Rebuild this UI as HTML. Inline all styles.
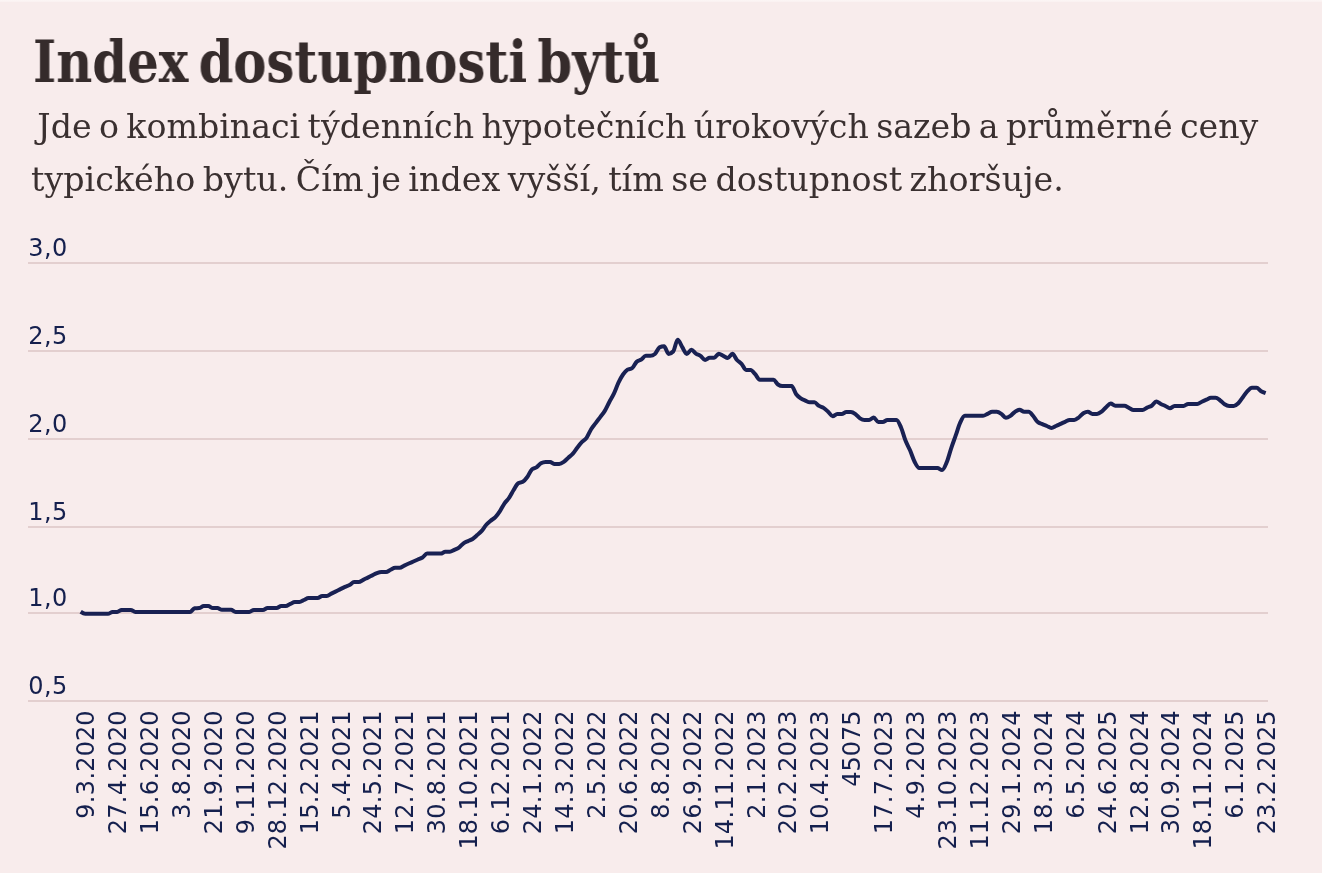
<!DOCTYPE html>
<html lang="cs"><head><meta charset="utf-8"><title>Index dostupnosti bytů</title>
<style>
html,body{margin:0;padding:0;}
body{width:1322px;height:873px;overflow:hidden;background:#f8ecec;position:relative;}
.top{position:absolute;left:0;top:0;width:1322px;height:2px;background:linear-gradient(#fcf6f5,#faf1f1);}
h1{position:absolute;left:33px;top:33px;margin:0;white-space:nowrap;color:#352b2b;
 font-family:"DejaVu Serif Condensed","DejaVu Serif","Liberation Serif",serif;font-weight:700;font-stretch:condensed;font-size:57px;line-height:58px;will-change:transform;transform-origin:0 0;transform:scaleX(0.9685);word-spacing:-7.2px;}
p.sub{position:absolute;left:34px;margin:0;white-space:pre;color:#3a3030;
 font-family:"DejaVu Serif","Liberation Serif",serif;font-weight:400;font-size:33px;line-height:36px;will-change:transform;transform-origin:0 0;transform:scaleX(1.0);word-spacing:-3.2px;}
svg{position:absolute;left:0;top:0;will-change:transform;}
svg text{font-family:"DejaVu Sans","Liberation Sans",sans-serif;font-size:24px;fill:#15204e;}
</style></head><body>
<div class="top"></div>
<h1 id="t">Index dostupnosti bytů</h1>
<p class="sub" id="s1" style="top:109px;left:30px;transform:scaleX(1.0068)"> Jde o kombinaci týdenních hypotečních úrokových sazeb a průměrné ceny</p>
<p class="sub" id="s2" style="top:161.7px;left:30.9px;transform:scaleX(1.0102)">typického bytu. Čím je index vyšší, tím se dostupnost zhoršuje.</p>
<svg width="1322" height="873" viewBox="0 0 1322 873">

<g stroke="#e3cfcf" stroke-width="2" fill="none">
<line x1="28" x2="1268" y1="263" y2="263"/>
<line x1="28" x2="1268" y1="351" y2="351"/>
<line x1="28" x2="1268" y1="439" y2="439"/>
<line x1="28" x2="1268" y1="527" y2="527"/>
<line x1="28" x2="1268" y1="613" y2="613"/>
<line x1="28" x2="1268" y1="701" y2="701"/>
</g>
<g id="yl">
<text x="28.3" y="255.9" dx="0 0.35 0.35">3,0</text>
<text x="28.3" y="343.9" dx="0 0.35 0.35">2,5</text>
<text x="28.3" y="431.9" dx="0 0.35 0.35">2,0</text>
<text x="28.3" y="519.9" dx="0 0.35 0.35">1,5</text>
<text x="28.3" y="605.9" dx="0 0.35 0.35">1,0</text>
<text x="28.3" y="693.9" dx="0 0.35 0.35">0,5</text>
</g>
<g id="xl" text-anchor="end">
<text transform="translate(94.20,710.5) rotate(-90)" dx="0 0.35 0.35 0.35 0.35 0 0 0">9.3.2020</text>
<text transform="translate(126.12,710.5) rotate(-90)" dx="0 0 0.35 0.35 0.35 0.35 0 0 0">27.4.2020</text>
<text transform="translate(158.04,710.5) rotate(-90)" dx="0 0 0.35 0.35 0.35 0.35 0 0 0">15.6.2020</text>
<text transform="translate(189.96,710.5) rotate(-90)" dx="0 0.35 0.35 0.35 0.35 0 0 0">3.8.2020</text>
<text transform="translate(221.88,710.5) rotate(-90)" dx="0 0 0.35 0.35 0.35 0.35 0 0 0">21.9.2020</text>
<text transform="translate(253.80,710.5) rotate(-90)" dx="0 0.35 0.35 0 0.35 0.35 0 0 0">9.11.2020</text>
<text transform="translate(285.72,710.5) rotate(-90)" dx="0 0 0.35 0.35 0 0.35 0.35 0 0 0">28.12.2020</text>
<text transform="translate(317.64,710.5) rotate(-90)" dx="0 0 0.35 0.35 0.35 0.35 0 0 0">15.2.2021</text>
<text transform="translate(349.56,710.5) rotate(-90)" dx="0 0.35 0.35 0.35 0.35 0 0 0">5.4.2021</text>
<text transform="translate(381.48,710.5) rotate(-90)" dx="0 0 0.35 0.35 0.35 0.35 0 0 0">24.5.2021</text>
<text transform="translate(413.40,710.5) rotate(-90)" dx="0 0 0.35 0.35 0.35 0.35 0 0 0">12.7.2021</text>
<text transform="translate(445.32,710.5) rotate(-90)" dx="0 0 0.35 0.35 0.35 0.35 0 0 0">30.8.2021</text>
<text transform="translate(477.24,710.5) rotate(-90)" dx="0 0 0.35 0.35 0 0.35 0.35 0 0 0">18.10.2021</text>
<text transform="translate(509.16,710.5) rotate(-90)" dx="0 0.35 0.35 0 0.35 0.35 0 0 0">6.12.2021</text>
<text transform="translate(541.08,710.5) rotate(-90)" dx="0 0 0.35 0.35 0.35 0.35 0 0 0">24.1.2022</text>
<text transform="translate(573.00,710.5) rotate(-90)" dx="0 0 0.35 0.35 0.35 0.35 0 0 0">14.3.2022</text>
<text transform="translate(604.92,710.5) rotate(-90)" dx="0 0.35 0.35 0.35 0.35 0 0 0">2.5.2022</text>
<text transform="translate(636.84,710.5) rotate(-90)" dx="0 0 0.35 0.35 0.35 0.35 0 0 0">20.6.2022</text>
<text transform="translate(668.76,710.5) rotate(-90)" dx="0 0.35 0.35 0.35 0.35 0 0 0">8.8.2022</text>
<text transform="translate(700.68,710.5) rotate(-90)" dx="0 0 0.35 0.35 0.35 0.35 0 0 0">26.9.2022</text>
<text transform="translate(732.60,710.5) rotate(-90)" dx="0 0 0.35 0.35 0 0.35 0.35 0 0 0">14.11.2022</text>
<text transform="translate(764.52,710.5) rotate(-90)" dx="0 0.35 0.35 0.35 0.35 0 0 0">2.1.2023</text>
<text transform="translate(796.44,710.5) rotate(-90)" dx="0 0 0.35 0.35 0.35 0.35 0 0 0">20.2.2023</text>
<text transform="translate(828.36,710.5) rotate(-90)" dx="0 0 0.35 0.35 0.35 0.35 0 0 0">10.4.2023</text>
<text transform="translate(860.28,710.5) rotate(-90)">45075</text>
<text transform="translate(892.20,710.5) rotate(-90)" dx="0 0 0.35 0.35 0.35 0.35 0 0 0">17.7.2023</text>
<text transform="translate(924.12,710.5) rotate(-90)" dx="0 0.35 0.35 0.35 0.35 0 0 0">4.9.2023</text>
<text transform="translate(956.04,710.5) rotate(-90)" dx="0 0 0.35 0.35 0 0.35 0.35 0 0 0">23.10.2023</text>
<text transform="translate(987.96,710.5) rotate(-90)" dx="0 0 0.35 0.35 0 0.35 0.35 0 0 0">11.12.2023</text>
<text transform="translate(1019.88,710.5) rotate(-90)" dx="0 0 0.35 0.35 0.35 0.35 0 0 0">29.1.2024</text>
<text transform="translate(1051.80,710.5) rotate(-90)" dx="0 0 0.35 0.35 0.35 0.35 0 0 0">18.3.2024</text>
<text transform="translate(1083.72,710.5) rotate(-90)" dx="0 0.35 0.35 0.35 0.35 0 0 0">6.5.2024</text>
<text transform="translate(1115.64,710.5) rotate(-90)" dx="0 0 0.35 0.35 0.35 0.35 0 0 0">24.6.2025</text>
<text transform="translate(1147.56,710.5) rotate(-90)" dx="0 0 0.35 0.35 0.35 0.35 0 0 0">12.8.2024</text>
<text transform="translate(1179.48,710.5) rotate(-90)" dx="0 0 0.35 0.35 0.35 0.35 0 0 0">30.9.2024</text>
<text transform="translate(1211.40,710.5) rotate(-90)" dx="0 0 0.35 0.35 0 0.35 0.35 0 0 0">18.11.2024</text>
<text transform="translate(1243.32,710.5) rotate(-90)" dx="0 0.35 0.35 0.35 0.35 0 0 0">6.1.2025</text>
<text transform="translate(1275.24,710.5) rotate(-90)" dx="0 0 0.35 0.35 0.35 0.35 0 0 0">23.2.2025</text>
</g>
<path d="M80.65,611.75C82.17,612.77,83.69,613.80,85.21,613.80C86.73,613.80,88.25,613.80,89.77,613.80C91.29,613.80,92.80,613.80,94.32,613.80C95.84,613.80,97.36,613.80,98.88,613.80C100.40,613.80,101.92,613.80,103.44,613.80C104.96,613.80,106.48,613.80,108.00,613.80C109.52,613.80,111.03,612.00,112.55,612.00C114.07,612.00,115.59,612.00,117.11,612.00C118.63,612.00,120.15,609.90,121.67,609.90C123.19,609.90,124.71,609.90,126.23,609.90C127.75,609.90,129.26,609.90,130.78,609.90C132.30,609.90,133.82,612.00,135.34,612.00C136.86,612.00,138.38,612.00,139.90,612.00C141.42,612.00,142.94,612.00,144.46,612.00C145.98,612.00,147.50,612.00,149.02,612.00C150.54,612.00,152.05,612.00,153.57,612.00C155.09,612.00,156.61,612.00,158.13,612.00C159.65,612.00,161.17,612.00,162.69,612.00C164.21,612.00,165.73,612.00,167.25,612.00C168.77,612.00,170.28,612.00,171.80,612.00C173.32,612.00,174.84,612.00,176.36,612.00C177.88,612.00,179.40,612.00,180.92,612.00C182.44,612.00,183.96,612.00,185.48,612.00C187.00,612.00,188.51,612.00,190.03,612.00C191.55,612.00,193.07,608.43,194.59,608.30C196.11,608.17,197.63,608.23,199.15,608.10C200.67,607.97,202.19,605.95,203.71,605.95C205.23,605.95,206.75,605.95,208.27,605.95C209.79,605.95,211.30,608.10,212.82,608.10C214.34,608.10,215.86,608.10,217.38,608.10C218.90,608.10,220.42,609.80,221.94,609.80C223.46,609.80,224.98,609.80,226.50,609.80C228.02,609.80,229.53,609.80,231.05,609.80C232.57,609.80,234.09,612.00,235.61,612.00C237.13,612.00,238.65,612.00,240.17,612.00C241.69,612.00,243.21,612.00,244.73,612.00C246.25,612.00,247.76,612.00,249.28,612.00C250.80,612.00,252.32,609.90,253.84,609.90C255.36,609.90,256.88,609.90,258.40,609.90C259.92,609.90,261.44,609.90,262.96,609.90C264.48,609.90,266.00,608.00,267.52,608.00C269.04,608.00,270.55,608.00,272.07,608.00C273.59,608.00,275.11,608.00,276.63,608.00C278.15,608.00,279.67,606.00,281.19,606.00C282.71,606.00,284.23,606.00,285.75,606.00C287.27,606.00,288.78,604.57,290.30,603.90C291.82,603.23,293.34,602.00,294.86,602.00C296.38,602.00,297.90,602.00,299.42,602.00C300.94,602.00,302.46,600.67,303.98,600.00C305.50,599.33,307.01,598.00,308.53,598.00C310.05,598.00,311.57,598.00,313.09,598.00C314.61,598.00,316.13,598.00,317.65,598.00C319.17,598.00,320.69,596.00,322.21,596.00C323.73,596.00,325.25,596.00,326.77,596.00C328.29,596.00,329.80,594.37,331.32,593.60C332.84,592.83,334.36,592.15,335.88,591.40C337.40,590.65,338.92,589.85,340.44,589.10C341.96,588.35,343.48,587.57,345.00,586.90C346.52,586.23,348.03,585.90,349.55,585.10C351.07,584.30,352.59,582.10,354.11,582.10C355.63,582.10,357.15,582.10,358.67,582.10C360.19,582.10,361.71,580.65,363.23,579.90C364.75,579.15,366.27,578.36,367.79,577.60C369.31,576.84,370.82,576.10,372.34,575.35C373.86,574.60,375.38,573.66,376.90,573.10C378.42,572.54,379.94,572.00,381.46,572.00C382.98,572.00,384.50,572.00,386.02,572.00C387.54,572.00,389.05,570.50,390.57,569.80C392.09,569.10,393.61,567.80,395.13,567.80C396.65,567.80,398.17,567.80,399.69,567.80C401.21,567.80,402.73,566.32,404.25,565.60C405.77,564.88,407.28,564.18,408.80,563.50C410.32,562.82,411.84,562.17,413.36,561.50C414.88,560.83,416.40,560.17,417.92,559.50C419.44,558.83,420.96,558.48,422.48,557.50C424.00,556.52,425.52,553.60,427.04,553.60C428.56,553.60,430.07,553.60,431.59,553.60C433.11,553.60,434.63,553.60,436.15,553.60C437.67,553.60,439.19,553.60,440.71,553.60C442.23,553.60,443.75,551.80,445.27,551.80C446.79,551.80,448.30,551.80,449.82,551.80C451.34,551.80,452.86,550.60,454.38,549.90C455.90,549.20,457.42,548.70,458.94,547.60C460.46,546.50,461.98,544.38,463.50,543.30C465.02,542.22,466.53,541.82,468.05,541.10C469.57,540.38,471.09,540.00,472.61,539.00C474.13,538.00,475.65,536.45,477.17,535.10C478.69,533.75,480.21,532.62,481.73,530.90C483.25,529.18,484.77,526.52,486.29,524.80C487.81,523.09,489.32,521.88,490.84,520.60C492.36,519.31,493.88,518.68,495.40,517.10C496.92,515.52,498.44,513.40,499.96,511.10C501.48,508.80,503.00,505.52,504.52,503.30C506.04,501.09,507.55,500.01,509.07,497.80C510.59,495.58,512.11,492.43,513.63,490.00C515.15,487.57,516.67,484.13,518.19,483.20C519.71,482.27,521.23,482.73,522.75,481.80C524.27,480.87,525.78,479.06,527.30,477.00C528.82,474.93,530.34,470.73,531.86,469.40C533.38,468.07,534.90,468.43,536.42,467.40C537.94,466.37,539.46,464.07,540.98,463.20C542.50,462.33,544.02,461.90,545.54,461.90C547.06,461.90,548.57,461.97,550.09,462.10C551.61,462.23,553.13,463.90,554.65,463.90C556.17,463.90,557.69,463.90,559.21,463.90C560.73,463.90,562.25,462.94,563.77,461.90C565.29,460.87,566.80,459.08,568.32,457.70C569.84,456.32,571.36,455.32,572.88,453.60C574.40,451.88,575.92,449.35,577.44,447.40C578.96,445.45,580.48,443.50,582.00,441.90C583.52,440.30,585.03,439.91,586.55,437.80C588.07,435.68,589.59,431.65,591.11,429.20C592.63,426.75,594.15,425.12,595.67,423.10C597.19,421.08,598.71,419.13,600.23,417.10C601.75,415.07,603.27,413.42,604.79,410.90C606.31,408.39,607.82,404.86,609.34,402.00C610.86,399.13,612.38,396.92,613.90,393.70C615.42,390.48,616.94,385.90,618.46,382.70C619.98,379.50,621.50,376.67,623.02,374.50C624.54,372.34,626.05,370.70,627.57,369.70C629.09,368.70,630.61,369.20,632.13,368.20C633.65,367.20,635.17,363.15,636.69,361.70C638.21,360.25,639.73,360.48,641.25,359.50C642.77,358.52,644.28,355.80,645.80,355.80C647.32,355.80,648.84,355.80,650.36,355.80C651.88,355.80,653.40,355.20,654.92,354.00C656.44,352.80,657.96,348.13,659.48,347.40C661.00,346.67,662.52,346.30,664.04,346.30C665.56,346.30,667.07,353.90,668.59,353.90C670.11,353.90,671.63,353.10,673.15,351.50C674.67,349.90,676.19,339.70,677.71,339.70C679.23,339.70,680.75,344.83,682.27,347.20C683.79,349.56,685.30,353.90,686.82,353.90C688.34,353.90,689.86,349.75,691.38,349.75C692.90,349.75,694.42,352.58,695.94,353.60C697.46,354.62,698.98,354.83,700.50,355.90C702.02,356.97,703.53,360.00,705.05,360.00C706.57,360.00,708.09,357.80,709.61,357.80C711.13,357.80,712.65,357.80,714.17,357.80C715.69,357.80,717.21,353.85,718.73,353.85C720.25,353.85,721.77,355.21,723.29,355.90C724.81,356.59,726.32,358.00,727.84,358.00C729.36,358.00,730.88,353.85,732.40,353.85C733.92,353.85,735.44,358.32,736.96,360.00C738.48,361.67,740.00,362.25,741.52,363.90C743.04,365.55,744.55,369.90,746.07,369.90C747.59,369.90,749.11,369.90,750.63,369.90C752.15,369.90,753.67,372.57,755.19,374.20C756.71,375.83,758.23,379.70,759.75,379.70C761.27,379.70,762.78,379.70,764.30,379.70C765.82,379.70,767.34,379.70,768.86,379.70C770.38,379.70,771.90,379.70,773.42,379.70C774.94,379.70,776.46,383.43,777.98,384.50C779.50,385.57,781.02,386.10,782.54,386.10C784.06,386.10,785.57,386.10,787.09,386.10C788.61,386.10,790.13,386.10,791.65,386.10C793.17,386.10,794.69,392.15,796.21,394.20C797.73,396.25,799.25,397.33,800.77,398.40C802.29,399.46,803.80,399.95,805.32,400.60C806.84,401.25,808.36,402.30,809.88,402.30C811.40,402.30,812.92,402.30,814.44,402.30C815.96,402.30,817.48,404.97,819.00,405.90C820.52,406.83,822.04,406.93,823.56,407.90C825.08,408.87,826.59,410.30,828.11,411.70C829.63,413.10,831.15,416.30,832.67,416.30C834.19,416.30,835.71,413.90,837.23,413.90C838.75,413.90,840.27,413.90,841.79,413.90C843.31,413.90,844.82,412.00,846.34,412.00C847.86,412.00,849.38,412.00,850.90,412.00C852.42,412.00,853.94,413.03,855.46,414.10C856.98,415.17,858.50,417.42,860.02,418.40C861.54,419.38,863.05,420.00,864.57,420.00C866.09,420.00,867.61,420.00,869.13,420.00C870.65,420.00,872.17,417.50,873.69,417.50C875.21,417.50,876.73,422.00,878.25,422.00C879.77,422.00,881.29,422.00,882.81,422.00C884.33,422.00,885.84,419.95,887.36,419.95C888.88,419.95,890.40,419.95,891.92,419.95C893.44,419.95,894.96,419.95,896.48,419.95C898.00,419.95,899.52,424.02,901.04,427.50C902.56,430.97,904.07,436.97,905.59,440.80C907.11,444.64,908.63,446.97,910.15,450.50C911.67,454.03,913.19,459.07,914.71,462.00C916.23,464.93,917.75,468.10,919.27,468.10C920.79,468.10,922.30,468.10,923.82,468.10C925.34,468.10,926.86,468.10,928.38,468.10C929.90,468.10,931.42,468.10,932.94,468.10C934.46,468.10,935.98,468.10,937.50,468.10C939.02,468.10,940.54,470.10,942.06,470.10C943.58,470.10,945.09,466.23,946.61,462.60C948.13,458.97,949.65,452.83,951.17,448.30C952.69,443.77,954.21,439.72,955.73,435.40C957.25,431.08,958.77,425.67,960.29,422.40C961.81,419.14,963.32,415.80,964.84,415.80C966.36,415.80,967.88,415.80,969.40,415.80C970.92,415.80,972.44,415.80,973.96,415.80C975.48,415.80,977.00,415.80,978.52,415.80C980.04,415.80,981.55,415.80,983.07,415.80C984.59,415.80,986.11,414.47,987.63,413.80C989.15,413.13,990.67,411.80,992.19,411.80C993.71,411.80,995.23,411.80,996.75,411.80C998.27,411.80,999.79,412.80,1001.31,413.80C1002.83,414.80,1004.34,417.80,1005.86,417.80C1007.38,417.80,1008.90,416.80,1010.42,415.80C1011.94,414.80,1013.46,412.82,1014.98,411.80C1016.50,410.78,1018.02,409.70,1019.54,409.70C1021.06,409.70,1022.57,411.80,1024.09,411.80C1025.61,411.80,1027.13,411.80,1028.65,411.80C1030.17,411.80,1031.69,414.28,1033.21,416.00C1034.73,417.72,1036.25,420.73,1037.77,422.10C1039.29,423.46,1040.80,423.55,1042.32,424.20C1043.84,424.85,1045.36,425.37,1046.88,426.00C1048.40,426.63,1049.92,428.00,1051.44,428.00C1052.96,428.00,1054.48,426.68,1056.00,426.00C1057.52,425.32,1059.04,424.60,1060.56,423.90C1062.08,423.20,1063.59,422.47,1065.11,421.80C1066.63,421.13,1068.15,419.90,1069.67,419.90C1071.19,419.90,1072.71,419.90,1074.23,419.90C1075.75,419.90,1077.27,418.60,1078.79,417.50C1080.31,416.40,1081.82,414.27,1083.34,413.30C1084.86,412.33,1086.38,411.70,1087.90,411.70C1089.42,411.70,1090.94,413.90,1092.46,413.90C1093.98,413.90,1095.50,413.90,1097.02,413.90C1098.54,413.90,1100.05,412.81,1101.57,411.70C1103.09,410.58,1104.61,408.55,1106.13,407.20C1107.65,405.85,1109.17,403.60,1110.69,403.60C1112.21,403.60,1113.73,405.80,1115.25,405.80C1116.77,405.80,1118.29,405.80,1119.81,405.80C1121.33,405.80,1122.84,405.80,1124.36,405.80C1125.88,405.80,1127.40,407.12,1128.92,407.80C1130.44,408.48,1131.96,409.90,1133.48,409.90C1135.00,409.90,1136.52,409.90,1138.04,409.90C1139.56,409.90,1141.07,409.90,1142.59,409.90C1144.11,409.90,1145.63,408.29,1147.15,407.60C1148.67,406.91,1150.19,406.75,1151.71,405.75C1153.23,404.75,1154.75,401.60,1156.27,401.60C1157.79,401.60,1159.30,403.23,1160.82,403.95C1162.34,404.68,1163.86,405.23,1165.38,405.95C1166.90,406.67,1168.42,408.25,1169.94,408.25C1171.46,408.25,1172.98,405.90,1174.50,405.90C1176.02,405.90,1177.54,405.90,1179.06,405.90C1180.58,405.90,1182.09,405.90,1183.61,405.90C1185.13,405.90,1186.65,403.90,1188.17,403.90C1189.69,403.90,1191.21,403.90,1192.73,403.90C1194.25,403.90,1195.77,403.90,1197.29,403.90C1198.81,403.90,1200.32,402.40,1201.84,401.70C1203.36,401.00,1204.88,400.35,1206.40,399.70C1207.92,399.05,1209.44,397.80,1210.96,397.80C1212.48,397.80,1214.00,397.80,1215.52,397.80C1217.04,397.80,1218.56,399.21,1220.08,400.30C1221.60,401.38,1223.11,403.37,1224.63,404.30C1226.15,405.24,1227.67,405.90,1229.19,405.90C1230.71,405.90,1232.23,405.90,1233.75,405.90C1235.27,405.90,1236.79,404.75,1238.31,403.30C1239.83,401.85,1241.34,399.21,1242.86,397.20C1244.38,395.18,1245.90,392.77,1247.42,391.20C1248.94,389.63,1250.46,387.80,1251.98,387.80C1253.50,387.80,1255.02,387.80,1256.54,387.80C1258.06,387.80,1259.57,390.30,1261.09,391.20C1262.61,392.10,1264.13,392.65,1265.65,393.20" fill="none" stroke="#192153" stroke-width="4" stroke-linejoin="round" stroke-linecap="butt"/>
</svg>
</body></html>
